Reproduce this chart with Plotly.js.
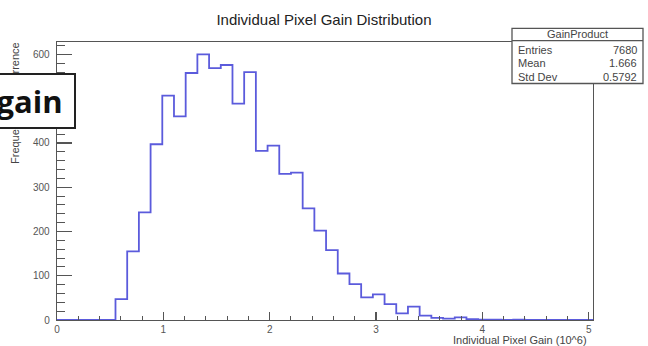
<!DOCTYPE html>
<html>
<head>
<meta charset="utf-8">
<script src="https://cdn.plot.ly/plotly-3.0.1.min.js"></script>
<style>html,body{margin:0;padding:0;background:#fff;}#chart{width:648px;height:346px;}</style>
</head>
<body>
<div id="chart"></div>
<script>
// Bin edges of the histogram (10^6 gain units)
const binEdges = [0.55, 0.66, 0.77, 0.88, 0.99, 1.10, 1.21, 1.32, 1.43, 1.54, 1.65, 1.76, 1.87, 1.98, 2.09, 2.20, 2.31, 2.42, 2.53, 2.64, 2.75, 2.86, 2.97, 3.08, 3.19, 3.30, 3.41, 3.52, 3.63, 3.74, 3.85, 3.96, 4.07, 4.18, 4.29, 4.40];
// Counts per bin
const counts = [47, 155, 243, 397, 507, 460, 558, 600, 569, 576, 489, 560, 382, 394, 330, 333, 252, 202, 158, 105, 81, 51, 58, 36, 15, 30, 10, 5, 3, 6, 2, 1, 1, 0, 1];
const xTicks = [0, 1, 2, 3, 4, 5];
const yTicks = [0, 100, 200, 300, 400, 500, 600];
const statsLabels = ["Entries", "Mean", "Std Dev"];
const statsValues = ["7680", "1.666", "0.5792"];
const statsName = "GainProduct";
const xMin = 0, xMax = 5.04;

const xs = [xMin].concat(binEdges, [xMax]);
const ys = [0].concat(counts, [0, 0]);

const FONT = "Liberation Sans, Arial, sans-serif";

const trace = {
  type: "scatter", mode: "lines", x: xs, y: ys,
  line: {shape: "hv", color: "#5b5bdc", width: 1.8},
  hoverinfo: "skip", showlegend: false
};

// paper coordinate helpers for the plot area (l=57, r=55, t=42, b=26)
const L = 57, R = 55, T = 42, B = 26, W = 648, H = 346;
const pw = W - L - R, ph = H - T - B;
const px = v => (v - L) / pw;
const py = v => (H - B - v) / ph;

const shapes = [
  {type: "rect", xref: "paper", yref: "paper", x0: px(512), x1: px(643), y0: py(83.5), y1: py(28.3),
   fillcolor: "#fff", line: {color: "#555", width: 1.3}, layer: "above"},
  {type: "line", xref: "paper", yref: "paper", x0: px(512), x1: px(643), y0: py(40.7), y1: py(40.7),
   line: {color: "#555", width: 1.2}, layer: "above"}
];

const annotations = [
  {text: "Frequency of occurrence", xref: "paper", yref: "paper", x: px(15), y: py(40),
   xanchor: "center", yanchor: "top", textangle: -90, showarrow: false,
   font: {family: FONT, size: 11, color: "#444"}},
  {text: "Individual Pixel Gain (10^6)", xref: "paper", yref: "paper", x: px(589), y: py(340),
   xanchor: "right", yanchor: "middle", showarrow: false,
   font: {family: FONT, size: 11, color: "#444"}},
  {text: statsName, xref: "paper", yref: "paper", x: px(577.5), y: py(34.5),
   xanchor: "center", yanchor: "middle", showarrow: false,
   font: {family: FONT, size: 11, color: "#444"}},
  {text: "<b>gain</b>", xref: "paper", yref: "paper", x: px(76), y: py(101),
   xanchor: "right", yanchor: "middle", showarrow: false,
   width: 89, height: 52, align: "center", borderpad: 0, borderwidth: 2,
   bordercolor: "#222", bgcolor: "#fff",
   font: {family: "Open Sans, sans-serif", size: 31, color: "#111"}}
];
const rowY = [50, 63.3, 77];
statsLabels.forEach((lab, i) => {
  annotations.push({text: lab, xref: "paper", yref: "paper", x: px(516), y: py(rowY[i]),
    xanchor: "left", yanchor: "middle", showarrow: false,
    font: {family: FONT, size: 11, color: "#444"}});
  annotations.push({text: statsValues[i], xref: "paper", yref: "paper", x: px(639), y: py(rowY[i]),
    xanchor: "right", yanchor: "middle", showarrow: false,
    font: {family: FONT, size: 11, color: "#444"}});
});

const layout = {
  width: W, height: H,
  margin: {l: L, r: R, t: T, b: B, pad: 0},
  paper_bgcolor: "#fff", plot_bgcolor: "#fff",
  title: {text: "Individual Pixel Gain Distribution", x: 0.5, xanchor: "center",
          y: 1 - 19.5 / H, yanchor: "middle", yref: "container", xref: "container",
          font: {family: FONT, size: 15, color: "#222"}},
  xaxis: {range: [xMin, xMax], tickvals: xTicks, ticktext: xTicks.map(String),
          ticks: "inside", ticklen: 8, tickwidth: 1.2, tickcolor: "#555",
          minor: {dtick: 0.2, tick0: 0, ticks: "inside", ticklen: 4, tickwidth: 1, tickcolor: "#555"},
          showline: true, mirror: true, linecolor: "#555", linewidth: 1.3,
          showgrid: false, zeroline: false, tickfont: {family: FONT, size: 10, color: "#555"},
          fixedrange: true},
  yaxis: {range: [0, 628], tickvals: yTicks, ticktext: yTicks.map(String),
          ticks: "inside", ticklen: 15, tickwidth: 1.2, tickcolor: "#555",
          minor: {dtick: 20, tick0: 0, ticks: "inside", ticklen: 8, tickwidth: 1, tickcolor: "#555"},
          showline: true, mirror: true, linecolor: "#555", linewidth: 1.3,
          showgrid: false, zeroline: false, tickfont: {family: FONT, size: 10, color: "#555"},
          ticklabelstandoff: 4, fixedrange: true},
  shapes: shapes,
  annotations: annotations,
  showlegend: false
};

Plotly.newPlot("chart", [trace], layout, {displayModeBar: false, staticPlot: true});
</script>
</body>
</html>
